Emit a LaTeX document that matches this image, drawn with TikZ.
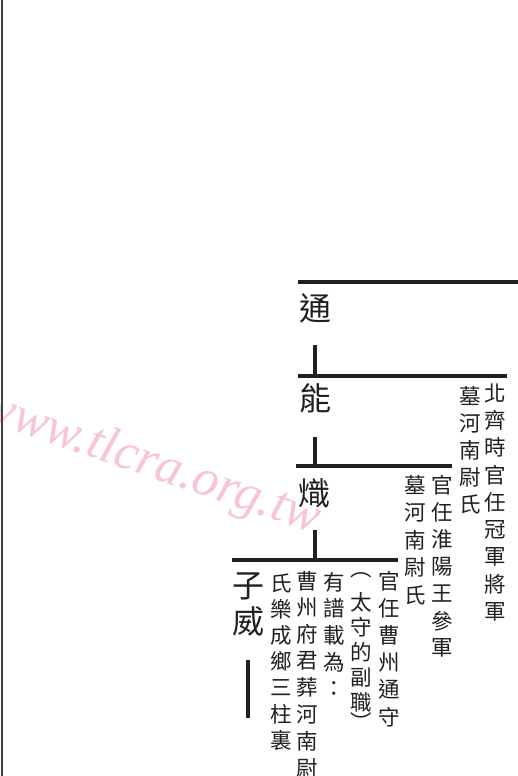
\documentclass[tikz,border=0pt]{standalone}
\usepackage{fontspec}
\newfontfamily\cjk{Noto Sans CJK TC}
\newfontfamily\wmfont{Liberation Serif}
\definecolor{ink}{RGB}{35,31,32}
\definecolor{wmpink}{RGB}{249,196,211}
\tikzset{
  rule/.style={draw=ink, line width=3.2pt},
  leftrule/.style={draw=black!75, line width=2pt},
  namech/.style={font=\cjk\fontsize{32}{32}\selectfont, text=ink, inner sep=0pt},
  colch/.style={font=\cjk\fontsize{21.5}{21.5}\selectfont, text=ink, inner sep=0pt},
  wmtext/.style={font=\wmfont\itshape\fontsize{52}{52}\selectfont, text=wmpink, inner sep=0pt, rotate=-19},
}
\newcommand\vcol[5]{%
  \foreach \c [count=\i from 0] in {#5} {\node[colch] (#4-\i) at (#1,{#2+#3*\i}) {\c};}}
\begin{document}
\begin{tikzpicture}[x=1pt,y=-1pt]
\useasboundingbox[fill=white] (0,0) rectangle (518,776);
% watermark
\node[wmtext] (wm) at (150,464) {www.tlcra.org.tw};
% left border line
\coordinate (lt) at (1.5,0); \coordinate (lb) at (1.5,776);
\draw[leftrule] (lt) -- (lb);
% horizontal rules
\coordinate (l1a) at (298,282); \coordinate (l1b) at (518,282);
\coordinate (l2a) at (298,376); \coordinate (l2b) at (507,376);
\coordinate (l3a) at (296,466); \coordinate (l3b) at (452,466);
\coordinate (l4a) at (232,560); \coordinate (l4b) at (398,560);
\draw[rule] (l1a) -- (l1b);
\draw[rule] (l2a) -- (l2b);
\draw[rule] (l3a) -- (l3b);
\draw[rule] (l4a) -- (l4b);
% names
\node[namech] (tong) at (315,308) {通};
\node[namech] (neng) at (315,398) {能};
\node[namech] (chi) at (314,493) {熾};
\node[namech] (zi) at (248,586) {子};
\node[namech] (wei) at (248,621) {威};
% ticks
\coordinate (t1) at (315,345); \coordinate (t2) at (315,437); \coordinate (t3) at (315,530);
\draw[rule] (t1) -- (t1 |- l2a);
\draw[rule] (t2) -- (t2 |- l3a);
\draw[rule] (t3) -- (t3 |- l4a);
\coordinate (zw1) at (248,660); \coordinate (zw2) at (248,718);
\draw[rule] (zw1) -- (zw2);
% columns
\vcol{495}{393}{27.4}{a}{北,齊,時,官,任,冠,軍,將,軍}
\vcol{470}{396}{27}{b}{墓,河,南,尉,氏}
\vcol{442}{485}{27.2}{c}{官,任,淮,陽,王,參,軍}
\vcol{415}{485}{27.5}{d}{墓,河,南,尉,氏}
\vcol{389}{581}{27.2}{e}{官,任,曹,州,通,守}
\node[colch] (fo) at (361,575) {︵};
\vcol{361}{602}{25.2}{f}{太,守,的,副,職}
\node[colch] (fc) at (361,722) {︶};
\vcol{334}{582}{26.7}{g}{有,譜,載,為,：}
\vcol{307}{581}{26.7}{h}{曹,州,府,君,葬,河,南,尉}
\vcol{281}{583}{26.2}{i}{氏,樂,成,鄉,三,柱,裏}
\end{tikzpicture}
\end{document}
